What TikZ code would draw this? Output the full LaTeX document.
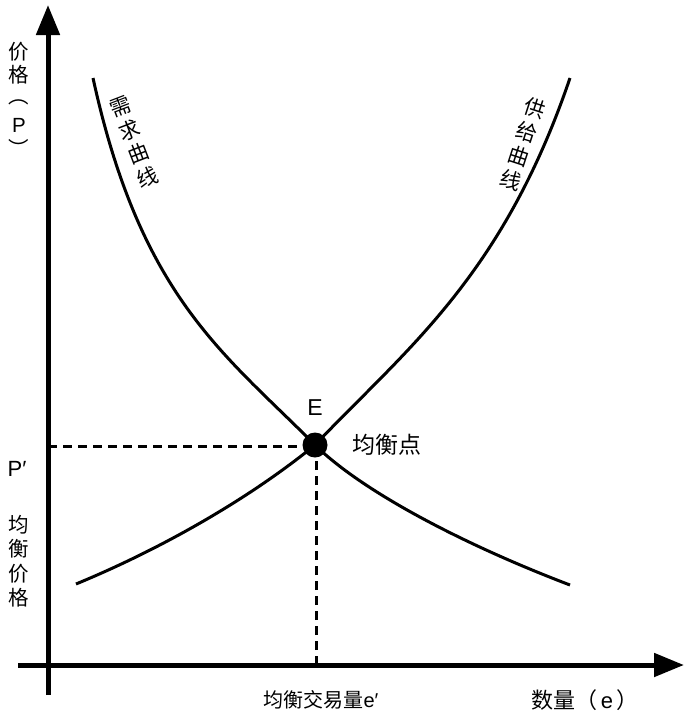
\documentclass[tikz,border=0pt]{standalone}
\usepackage{fontspec}
\setmainfont{Noto Sans CJK SC}
\newfontfamily\lat{Liberation Sans}
\usetikzlibrary{arrows.meta}
\begin{document}
\begin{tikzpicture}[x=1pt,y=-1pt,
  axis/.style={line width=5pt,-{Triangle[length=30pt,width=23pt]}},
  curve/.style={line width=3pt},
  dline/.style={line width=3pt,dash pattern=on 9pt off 6pt},
  lbl/.style={inner sep=0pt,font=\fontsize{22}{24}\selectfont},
  clbl/.style={inner sep=0pt,font=\fontsize{20.5}{24}\selectfont},
  blbl/.style={inner sep=0pt,font=\fontsize{20}{24}\selectfont},
  vlbl/.style={inner sep=0pt,align=center,font=\fontsize{21}{25.3}\selectfont}]
\useasboundingbox (0,0) rectangle (688,721);
\coordinate (ytop) at (48,5);
\coordinate (ybot) at (48,695);
\coordinate (xl) at (18,665);
\coordinate (xr) at (684,665);
\coordinate (Ec) at (315,445);
\coordinate (Py) at (48,446);
\coordinate (ex) at (316,665);
\coordinate (d0) at (93,78);
\coordinate (d3) at (570,585);
\coordinate (s0) at (76,584);
\coordinate (s3) at (570,78);
\draw[axis] (ybot) -- (ytop);
\draw[axis] (xl) -- (xr);
\draw[dline] (Py) -- (Py -| Ec);
\draw[dline] (ex) -- (Ec -| ex);
\draw[curve] (d0) .. controls (141,298) and (225,354) .. (Ec)
  .. controls (365,494) and (470,547) .. (d3);
\draw[curve] (s0) .. controls (156,551) and (245,502) .. (Ec)
  .. controls (405,350) and (502,278) .. (s3);
\node[circle,fill,inner sep=0pt,minimum size=25pt] (E) at (Ec) {};
\node[lbl,font=\fontsize{23}{24}\selectfont] (Elbl) at (315,408) {\lat E};
\node[lbl,font=\fontsize{23}{24}\selectfont] (eqpt) at (387,445) {均衡点};
\node[clbl] (p1) at (19,52) {价};
\node[clbl] (p2) at (19,75) {格};
\node[clbl] (p3) at (19,102) {︵};
\node[clbl] (p4) at (19,125) {\lat P};
\node[clbl] (p5) at (19,148) {︶};
\node[lbl] (pp) at (17,469) {\lat P′};
\node[clbl] (q1) at (19,525) {均};
\node[clbl] (q2) at (19,549) {衡};
\node[clbl] (q3) at (19,574) {价};
\node[clbl] (q4) at (19,598) {格};
\node[vlbl,rotate=21] (dlbl) at (134,142) {需\\求\\曲\\线};
\node[vlbl,rotate=-18] (slbl) at (523,144) {供\\给\\曲\\线};
\node[blbl] (eq) at (321,700) {均衡交易量{\lat e′}};
\node[lbl] (qlbl) at (585,700) {数量（{\lat\,e\,}）};
\end{tikzpicture}
\end{document}
